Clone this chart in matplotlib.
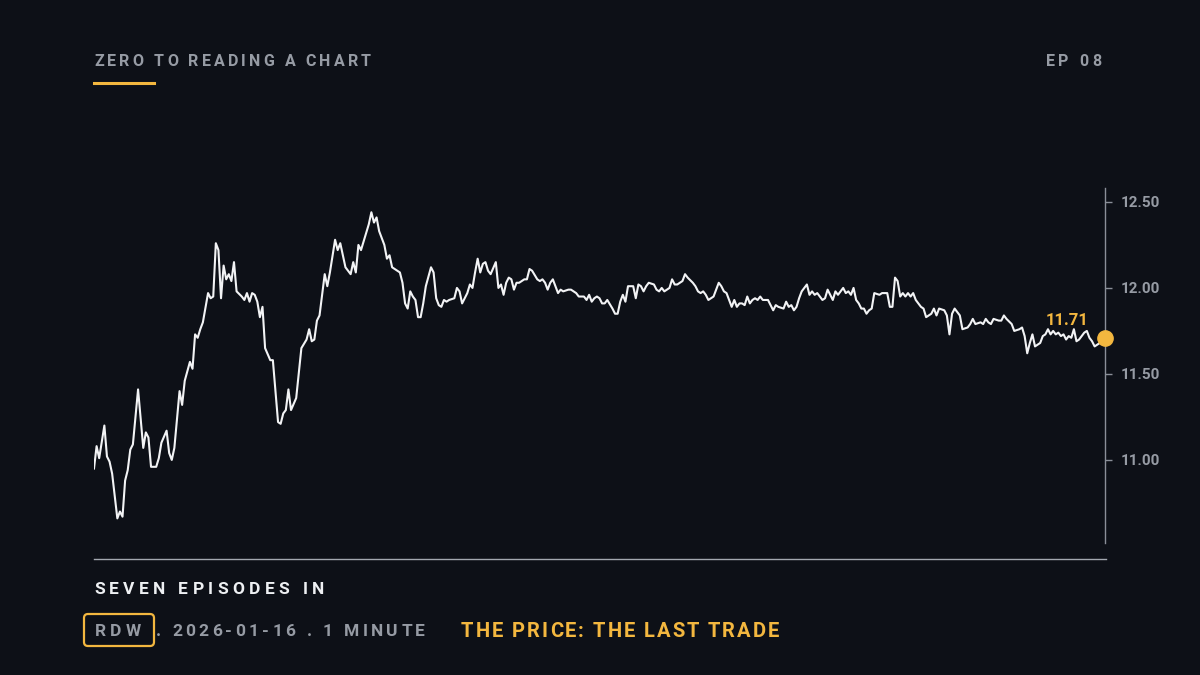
import matplotlib
matplotlib.use("Agg")
import matplotlib.pyplot as plt
from matplotlib.lines import Line2D
from matplotlib.patches import FancyBboxPatch
from matplotlib.transforms import IdentityTransform

# ---------------- data ----------------
# minutes after the 09:30 open, RDW 1-minute last trade
minutes = [0, 1, 2, 4, 5, 6, 7, 8, 9, 10, 11, 12, 13, 14, 15, 17, 19, 20, 21, 22, 24, 25, 26, 28, 29, 30, 31, 33, 34, 35,
           37, 38, 39, 40, 41, 42, 44, 45, 46, 47, 48, 49, 50, 51, 52, 53, 54, 55, 57, 58, 59, 60, 61, 62, 63, 64, 65, 66, 68, 69,
           71, 72, 73, 74, 75, 76, 78, 80, 82, 83, 84, 85, 86, 87, 89, 90, 91, 93, 94, 95, 97, 99, 100, 101, 102, 103, 105, 106, 107, 108,
           109, 110, 112, 113, 114, 115, 117, 118, 119, 120, 121, 122, 123, 124, 125, 126, 127, 128, 130, 131, 132, 133, 134, 135, 136, 137, 139, 140, 141, 142,
           144, 145, 146, 147, 148, 149, 150, 151, 152, 153, 155, 156, 157, 158, 159, 160, 161, 162, 163, 164, 166, 167, 168, 169, 171, 172, 173, 174, 175, 176,
           177, 179, 180, 181, 183, 184, 186, 187, 189, 190, 191, 192, 193, 194, 195, 196, 197, 198, 200, 201, 202, 203, 204, 205, 206, 208, 209, 210, 211, 212,
           213, 214, 216, 217, 218, 219, 220, 222, 223, 224, 225, 227, 228, 229, 231, 232, 233, 234, 235, 236, 237, 239, 240, 241, 242, 243, 244, 246, 247, 248,
           249, 250, 251, 252, 253, 254, 255, 256, 257, 258, 260, 261, 262, 263, 264, 266, 267, 268, 269, 270, 271, 272, 273, 275, 276, 277, 278, 279, 280, 281,
           282, 283, 285, 286, 287, 289, 290, 291, 292, 293, 294, 295, 296, 297, 298, 299, 300, 301, 303, 304, 305, 306, 307, 308, 309, 310, 311, 312, 313, 314,
           315, 316, 317, 319, 320, 321, 323, 324, 325, 326, 328, 329, 330, 331, 332, 334, 335, 337, 338, 339, 340, 342, 343, 344, 345, 346, 347, 349, 350, 351,
           352, 354, 355, 357, 358, 359, 360, 361, 362, 363, 365, 366, 367, 368, 369, 370, 371, 372, 373, 374, 375, 376, 377, 378, 379, 380, 382, 383, 384, 385,
           386, 387, 388, 390]
prices = [10.95, 11.08, 11.01, 11.20, 11.02, 10.99, 10.92, 10.79, 10.66, 10.70, 10.67, 10.88, 10.94, 11.06, 11.09, 11.41, 11.07, 11.16, 11.13, 10.96, 10.96, 11.01, 11.10, 11.17, 11.04, 11.00, 11.07, 11.40, 11.32, 11.46,
          11.57, 11.53, 11.73, 11.71, 11.76, 11.80, 11.97, 11.94, 11.95, 12.26, 12.22, 11.94, 12.13, 12.05, 12.08, 12.04, 12.15, 11.98, 11.95, 11.93, 11.97, 11.92, 11.97, 11.96, 11.92, 11.83, 11.89, 11.65, 11.58, 11.58,
          11.22, 11.21, 11.27, 11.29, 11.41, 11.29, 11.36, 11.65, 11.70, 11.76, 11.69, 11.70, 11.81, 11.84, 12.08, 12.01, 12.09, 12.28, 12.22, 12.26, 12.12, 12.08, 12.15, 12.09, 12.25, 12.22, 12.32, 12.37, 12.44, 12.38,
          12.41, 12.33, 12.25, 12.17, 12.19, 12.12, 12.10, 12.09, 12.03, 11.91, 11.88, 11.98, 11.95, 11.93, 11.83, 11.83, 11.91, 12.01, 12.12, 12.09, 11.94, 11.90, 11.89, 11.93, 11.92, 11.93, 11.94, 12.00, 11.98, 11.91,
          11.97, 12.02, 12.00, 12.09, 12.17, 12.09, 12.14, 12.15, 12.10, 12.08, 12.15, 12.00, 12.02, 11.96, 12.03, 12.06, 12.05, 11.99, 12.03, 12.03, 12.05, 12.05, 12.11, 12.10, 12.05, 12.04, 12.05, 12.03, 11.99, 12.03,
          12.05, 11.97, 11.99, 11.98, 11.99, 11.99, 11.97, 11.95, 11.95, 11.93, 11.96, 11.92, 11.94, 11.95, 11.94, 11.91, 11.91, 11.93, 11.88, 11.85, 11.85, 11.92, 11.96, 11.92, 12.01, 12.01, 11.94, 12.02, 12.01, 11.98,
          12.01, 12.03, 12.02, 11.99, 11.98, 12.00, 11.98, 12.00, 12.05, 12.02, 12.02, 12.04, 12.08, 12.06, 12.03, 12.01, 11.98, 11.97, 11.98, 11.96, 11.93, 11.95, 11.99, 12.03, 12.01, 11.98, 11.97, 11.89, 11.93, 11.89,
          11.91, 11.91, 11.90, 11.95, 11.91, 11.93, 11.94, 11.93, 11.95, 11.93, 11.93, 11.90, 11.87, 11.90, 11.89, 11.88, 11.92, 11.89, 11.90, 11.87, 11.89, 11.94, 11.98, 12.02, 11.96, 11.98, 11.96, 11.97, 11.95, 11.93,
          11.94, 11.99, 11.93, 11.98, 11.96, 12.00, 11.97, 11.98, 11.96, 12.00, 11.93, 11.91, 11.88, 11.88, 11.85, 11.87, 11.88, 11.97, 11.96, 11.97, 11.97, 11.97, 11.89, 11.89, 12.06, 12.04, 11.95, 11.97, 11.95, 11.97,
          11.95, 11.97, 11.93, 11.89, 11.88, 11.83, 11.85, 11.88, 11.84, 11.88, 11.87, 11.84, 11.73, 11.85, 11.88, 11.84, 11.76, 11.77, 11.79, 11.82, 11.79, 11.80, 11.79, 11.82, 11.80, 11.79, 11.82, 11.81, 11.81, 11.84,
          11.82, 11.79, 11.75, 11.76, 11.77, 11.72, 11.62, 11.68, 11.73, 11.66, 11.68, 11.72, 11.73, 11.76, 11.73, 11.75, 11.73, 11.74, 11.72, 11.73, 11.70, 11.72, 11.71, 11.76, 11.69, 11.70, 11.74, 11.75, 11.71, 11.69,
          11.66, 11.67, 11.68, 11.71]
yticks = [11.00, 11.50, 12.00, 12.50]
last_label = "11.71"

header_left = "ZERO TO READING A CHART"
header_right = "EP 08"
kicker = "SEVEN EPISODES IN"
ticker = "RDW"
meta = ". 2026-01-16 . 1 MINUTE"
title = "THE PRICE: THE LAST TRADE"

# ---------------- style ----------------
BG = "#0d1017"
GRAY = "#969ba4"
AXGRAY = "#8a8f98"
WHITE = "#eef0f3"
AMBER = "#f3b73f"
FONT = ["Roboto", "DejaVu Sans"]
W, H = 1200, 675

plt.rcParams["font.family"] = FONT
fig = plt.figure(figsize=(12, 6.75), dpi=100, facecolor=BG)


def fx(x):
    return x / W


def fy(y):
    return 1 - y / H


ax = fig.add_axes([fx(94), fy(543), fx(1105) - fx(94), fy(188) - fy(543)])
ax.set_facecolor(BG)
ax.plot(minutes, prices, color="#f2f3f5", lw=1.5, solid_joinstyle="round")
ax.plot([minutes[-1]], [prices[-1]], "o", color=AMBER, ms=11, clip_on=False, zorder=5)
ax.annotate(last_label, (minutes[-1], prices[-1]), xytext=(-12, 12.5), textcoords="offset points",
            ha="right", va="center", color=AMBER, fontsize=12, fontweight="bold")
ax.set_xlim(0, 390)
ax.set_ylim(10.517, 12.581)
for s in ["left", "top", "bottom"]:
    ax.spines[s].set_visible(False)
ax.spines["right"].set_color(AXGRAY)
ax.spines["right"].set_linewidth(1.0)
ax.set_xticks([])
ax.yaxis.tick_right()
ax.set_yticks(yticks)
ax.set_yticklabels([f"{v:.2f}" for v in yticks])
ax.tick_params(axis="y", colors=AXGRAY, length=5, width=1, pad=6, labelsize=11, labelcolor=GRAY)
for t in ax.get_yticklabels():
    t.set_fontweight("bold")

# bottom rule
fig.add_artist(Line2D([fx(94), fx(1106)], [fy(559), fy(559)], color="#a3a8b0", lw=1.0))
# header underline
fig.add_artist(Line2D([fx(94), fx(154)], [fy(83), fy(83)], color=AMBER, lw=2.2))

renderer = fig.canvas.get_renderer()


def measure(s, **kw):
    if s == "":
        return 0.0
    t1 = fig.text(0, 0, s + "|", **kw)
    t2 = fig.text(0, 0, "|", **kw)
    w = t1.get_window_extent(renderer).width - t2.get_window_extent(renderer).width
    t1.remove()
    t2.remove()
    return w


def spaced(x, y, s, target_w, align="left", **kw):
    natural = measure(s, **kw)
    sp = (target_w - natural) / (len(s) - 1)
    x0 = x if align == "left" else x - target_w
    for i, ch in enumerate(s):
        if ch == " ":
            continue
        xi = x0 + measure(s[:i], **kw) + i * sp
        fig.text(fx(xi), fy(y), ch, ha="left", va="baseline", **kw)


spaced(94, 66, header_left, 277, color=GRAY, fontsize=11.5, fontweight="bold")
spaced(1101, 66, header_right, 55, align="right", color=GRAY, fontsize=11.5, fontweight="bold")
spaced(94, 594, kicker, 230, color=WHITE, fontsize=12.5, fontweight="bold")
spaced(95, 636, ticker, 46, color=GRAY, fontsize=12.5, fontweight="bold")
spaced(156, 636, meta, 269, color=GRAY, fontsize=12.5, fontweight="bold")
spaced(461, 637, title, 318, color=AMBER, fontsize=14.5, fontweight="bold")

box = FancyBboxPatch((84, H - 646), 70, 32, boxstyle="round,pad=0,rounding_size=4",
                     transform=IdentityTransform(), facecolor="none", edgecolor=AMBER, lw=1.6)
fig.add_artist(box)

fig.savefig("out.png", dpi=100, facecolor=BG)
